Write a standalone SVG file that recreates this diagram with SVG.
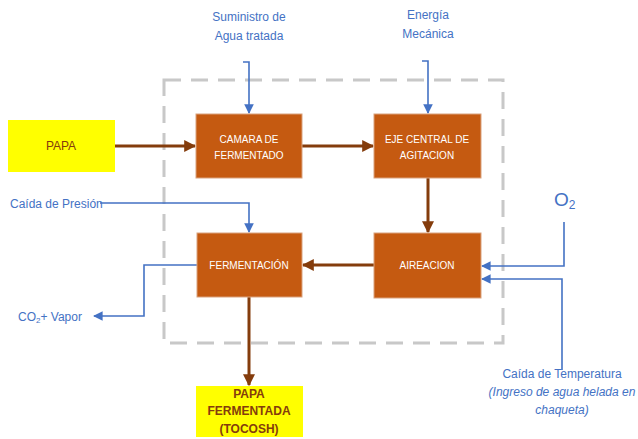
<svg xmlns="http://www.w3.org/2000/svg" width="638" height="439" viewBox="0 0 638 439">
  <defs>
    <marker id="brownHead" viewBox="0 0 10 10" refX="9" refY="5" markerWidth="4" markerHeight="4" orient="auto" markerUnits="strokeWidth">
      <path d="M0,0 L10,5 L0,10 Z" fill="#843C0C"/>
    </marker>
    <marker id="blueHead" viewBox="0 0 10 10" refX="9" refY="5" markerWidth="6" markerHeight="6" orient="auto" markerUnits="strokeWidth">
      <path d="M0,0 L10,5 L0,10 Z" fill="#4472C4"/>
    </marker>
  </defs>
  <style>
    .proc { fill: #C55A11; stroke: #D9A27E; stroke-width: 1; }
    .prod { fill: #FFFF00; }
    .ptext { font-family: "Liberation Sans", Arial, sans-serif; font-size: 10px; fill: #FFFFFF; text-anchor: middle; }
    .ytext { font-family: "Liberation Sans", Arial, sans-serif; font-size: 12px; font-weight: bold; fill: #843C0C; text-anchor: middle; }
    .label { font-family: "Liberation Sans", Arial, sans-serif; font-size: 12px; fill: #4472C4; }
    .flow { fill: none; stroke: #843C0C; stroke-width: 3; marker-end: url(#brownHead); }
    .util { fill: none; stroke: #4472C4; stroke-width: 1.6; marker-end: url(#blueHead); }
  </style>

  <rect width="638" height="439" fill="#FFFFFF"/>

  <!-- system boundary -->
  <rect id="boundary" x="164" y="80" width="339" height="263" fill="none" stroke="#C8C8C8" stroke-width="3" stroke-dasharray="17,10"/>

  <!-- connectors -->
  <g id="connectors">
    <line class="flow" x1="115" y1="146" x2="195" y2="146"/>
    <line class="flow" x1="302" y1="146" x2="373" y2="146"/>
    <line class="flow" x1="428" y1="178" x2="428" y2="232"/>
    <line class="flow" x1="374" y1="265" x2="303" y2="265"/>
    <line class="flow" x1="249" y1="297" x2="249" y2="385"/>

    <polyline class="util" points="243,62 249,62 249,113"/>
    <polyline class="util" points="422,61 428,61 428,113"/>
    <polyline class="util" points="100,203 249,203 249,232"/>
    <polyline class="util" points="197,265 144,265 144,316 94,316"/>
    <polyline class="util" points="564,222 564,266 482,266"/>
    <polyline class="util" points="562,370 562,279 482,279"/>
  </g>

  <!-- nodes -->
  <g id="papa">
    <rect class="prod" x="8" y="120" width="107" height="52"/>
    <text class="ytext" x="61" y="150" style="font-weight:normal">PAPA</text>
  </g>
  <g id="camara">
    <rect class="proc" x="196" y="114" width="106" height="64"/>
    <text class="ptext" x="249" y="143">CAMARA DE</text>
    <text class="ptext" x="249" y="159">FERMENTADO</text>
  </g>
  <g id="eje">
    <rect class="proc" x="374" y="114" width="107" height="64"/>
    <text class="ptext" x="427" y="143">EJE CENTRAL DE</text>
    <text class="ptext" x="427" y="159">AGITACION</text>
  </g>
  <g id="aireacion">
    <rect class="proc" x="374" y="233" width="107" height="65"/>
    <text class="ptext" x="427" y="269">AIREACION</text>
  </g>
  <g id="fermentacion">
    <rect class="proc" x="197" y="233" width="105" height="64"/>
    <text class="ptext" x="249" y="269">FERMENTACIÓN</text>
  </g>
  <g id="tocosh">
    <rect class="prod" x="196" y="386" width="107" height="51"/>
    <text class="ytext" x="249" y="398">PAPA</text>
    <text class="ytext" x="249" y="415">FERMENTADA</text>
    <text class="ytext" x="249" y="433">(TOCOSH)</text>
  </g>

  <!-- stream labels -->
  <g id="labels">
    <text class="label" x="249" y="21" text-anchor="middle">Suministro de</text>
    <text class="label" x="249" y="40" text-anchor="middle">Agua tratada</text>
    <text class="label" x="428" y="19" text-anchor="middle">Energía</text>
    <text class="label" x="428" y="38" text-anchor="middle">Mecánica</text>
    <text class="label" x="10" y="208">Caída de Presión</text>
    <text class="label" x="18" y="321">CO<tspan style="font-size:8px" dy="2">2</tspan><tspan dy="-2">+ Vapor</tspan></text>
    <text class="label" x="554" y="206" style="font-size:19px">O<tspan style="font-size:12px" dy="3">2</tspan></text>
    <text class="label" x="562" y="378" text-anchor="middle">Caída de Temperatura</text>
    <text class="label" x="562" y="396" text-anchor="middle" font-style="italic">(Ingreso de agua helada en</text>
    <text class="label" x="562" y="414" text-anchor="middle" font-style="italic">chaqueta)</text>
  </g>
</svg>
